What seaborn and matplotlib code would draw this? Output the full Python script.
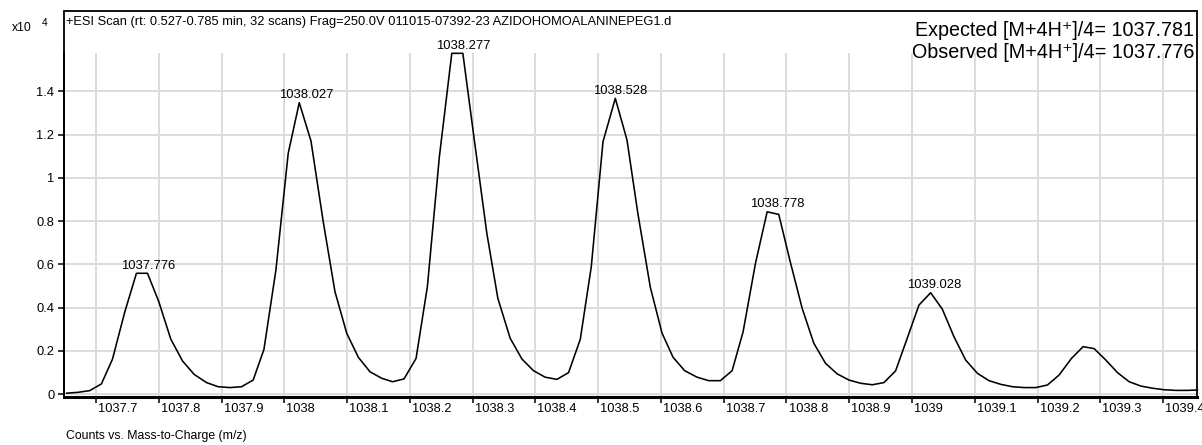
import numpy as np
import pandas as pd
import matplotlib
matplotlib.use("Agg")
import matplotlib.pyplot as plt
import matplotlib.transforms as mtrans
from matplotlib.patches import Rectangle
import seaborn as sns

# ---------------- data (counts in units of 10^4) ----------------
mz = [
    1037.6528, 1037.6713, 1037.6900, 1037.7086, 1037.7262, 1037.7458, 1037.7644, 1037.7820,
    1037.8000, 1037.8191, 1037.8378, 1037.8563, 1037.8761, 1037.8946, 1037.9132, 1037.9319,
    1037.9504, 1037.9675, 1037.9866, 1038.0062, 1038.0238, 1038.0424, 1038.0620, 1038.0807,
    1038.0994, 1038.1179, 1038.1365, 1038.1552, 1038.1724, 1038.1907, 1038.2099, 1038.2279,
    1038.2470, 1038.2668, 1038.2844, 1038.3013, 1038.3226, 1038.3402, 1038.3598, 1038.3785,
    1038.3970, 1038.4156, 1038.4343, 1038.4528, 1038.4715, 1038.4890, 1038.5077, 1038.5273,
    1038.5459, 1038.5632, 1038.5831, 1038.6018, 1038.6193, 1038.6378, 1038.6576, 1038.6761,
    1038.6947, 1038.7134, 1038.7309, 1038.7506, 1038.7692, 1038.7877, 1038.8053, 1038.8250,
    1038.8435, 1038.8622, 1038.8809, 1038.8994, 1038.9180, 1038.9367, 1038.9552, 1038.9738,
    1038.9925, 1039.0110, 1039.0297, 1039.0483, 1039.0668, 1039.0855, 1039.1041, 1039.1226,
    1039.1413, 1039.1600, 1039.1785, 1039.1971, 1039.2158, 1039.2343, 1039.2541, 1039.2726,
    1039.2901, 1039.3088, 1039.3274, 1039.3459, 1039.3646, 1039.3833, 1039.4018, 1039.4204,
    1039.4391, 1039.4550,
]
counts = [
    0.005, 0.009, 0.017, 0.048, 0.162, 0.380, 0.559, 0.559,
    0.428, 0.255, 0.154, 0.092, 0.054, 0.035, 0.031, 0.035,
    0.066, 0.207, 0.574, 1.113, 1.347, 1.171, 0.797, 0.474,
    0.282, 0.171, 0.104, 0.074, 0.058, 0.071, 0.166, 0.497,
    1.097, 1.575, 1.575, 1.205, 0.744, 0.443, 0.259, 0.163,
    0.109, 0.079, 0.069, 0.100, 0.254, 0.589, 1.167, 1.367,
    1.175, 0.836, 0.494, 0.282, 0.171, 0.109, 0.079, 0.063,
    0.063, 0.109, 0.289, 0.605, 0.843, 0.831, 0.620, 0.397,
    0.236, 0.143, 0.094, 0.066, 0.051, 0.044, 0.054, 0.108,
    0.260, 0.412, 0.469, 0.393, 0.266, 0.158, 0.097, 0.063,
    0.046, 0.035, 0.031, 0.031, 0.043, 0.089, 0.166, 0.220,
    0.211, 0.158, 0.100, 0.058, 0.038, 0.028, 0.021, 0.018,
    0.018, 0.020,
]
peak_labels = [1037.776, 1038.027, 1038.277, 1038.528, 1038.778, 1039.028]

x_ticks = [1037.7, 1037.8, 1037.9, 1038.0, 1038.1, 1038.2, 1038.3, 1038.4, 1038.5,
           1038.6, 1038.7, 1038.8, 1038.9, 1039.0, 1039.1, 1039.2, 1039.3, 1039.4]
x_tick_labels = ["1037.7", "1037.8", "1037.9", "1038", "1038.1", "1038.2", "1038.3",
                 "1038.4", "1038.5", "1038.6", "1038.7", "1038.8", "1038.9", "1039",
                 "1039.1", "1039.2", "1039.3", "1039.4"]
y_ticks = [0, 0.2, 0.4, 0.6, 0.8, 1.0, 1.2, 1.4]
y_tick_labels = ["0", "0.2", "0.4", "0.6", "0.8", "1", "1.2", "1.4"]

header_text = ("+ESI Scan (rt: 0.527-0.785 min, 32 scans) Frag=250.0V "
               "011015-07392-23 AZIDOHOMOALANINEPEG1.d")
expected_text = "Expected [M+4H\u207a]/4= 1037.781"
observed_text = "Observed [M+4H\u207a]/4= 1037.776"
xlabel_text = "Counts vs. Mass-to-Charge (m/z)"

# ---------------- style ----------------
sns.set_theme(style="white")
plt.rcParams["font.family"] = ["Liberation Sans", "DejaVu Sans"]

W, H = 1202, 445
fig = plt.figure(figsize=(W / 100, H / 100), dpi=100)
fig.patch.set_facecolor("white")

def fx(px):
    return px / W

def fy(py):
    return 1 - py / H

ax_left, ax_right, ax_top, ax_bottom = 64, 1197, 53, 396.5
ax = fig.add_axes([fx(ax_left), fy(ax_bottom), fx(ax_right - ax_left),
                   (ax_bottom - ax_top) / H])
ax.set_facecolor("white")

df = pd.DataFrame({"mz": mz, "counts": counts})
sns.lineplot(data=df, x="mz", y="counts", ax=ax, color="black", linewidth=1.15,
             estimator=None, sort=False)
for ln in ax.lines:
    ln.set_clip_on(False)
    ln.set_zorder(3)

ax.set_xlim(1037.649, 1039.454)
ax.set_ylim(-0.0102, 1.5765)
ax.set_xticks(x_ticks)
ax.set_xticklabels(x_tick_labels)
ax.set_yticks(y_ticks)
ax.set_yticklabels(y_tick_labels)
ax.set_xlabel("")
ax.set_ylabel("")

ax.grid(True, color="#dcdcdc", linewidth=1.4)
ax.set_axisbelow(True)

for s in ["top", "right"]:
    ax.spines[s].set_visible(False)
ax.spines["left"].set_color("black")
ax.spines["left"].set_linewidth(1.3)
ax.spines["bottom"].set_color("black")
ax.spines["bottom"].set_linewidth(2.2)

ax.tick_params(axis="both", direction="out", length=4.5, width=1.1, color="black",
               labelsize=9.3, labelcolor="black")
ax.tick_params(axis="x", pad=0.5)
ax.tick_params(axis="y", pad=2.5)
ax.tick_params(bottom=True, left=True)

offset = mtrans.ScaledTranslation(1.5 / 72, 0, fig.dpi_scale_trans)
for lbl in ax.get_xticklabels():
    lbl.set_ha("left")
    lbl.set_transform(lbl.get_transform() + offset)

# peak labels
mz_arr = np.array(mz)
cnt_arr = np.array(counts)
for lab in peak_labels:
    h = cnt_arr[np.abs(mz_arr - lab) < 0.02].max()
    ax.annotate(f"{lab:.3f}", (lab, h), xytext=(3.5, 3.3), textcoords="offset points",
                ha="center", va="baseline", fontsize=9.4, color="black",
                annotation_clip=False, zorder=4)

# outer frame
fig.add_artist(Rectangle((fx(64), fy(396.5)), fx(1197 - 64), (396.5 - 11) / H,
                         transform=fig.transFigure, fill=False, edgecolor="black",
                         linewidth=1.3, zorder=5))

# texts
fig.text(fx(66), fy(22.5), header_text, ha="left", va="center", fontsize=9.3, color="black")
fig.text(fx(1194), fy(36.5), expected_text, ha="right", va="baseline", fontsize=14.2,
         color="black", zorder=6)
fig.text(fx(1194), fy(58.5), observed_text, ha="right", va="baseline", fontsize=14.2,
         color="black", zorder=6)
fig.text(fx(11.5), fy(28), "x10", ha="left", va="center", fontsize=8.8, color="black")
fig.text(fx(45), fy(23.5), "4", ha="center", va="center", fontsize=7.2, color="black")
fig.text(fx(66), fy(436), xlabel_text, ha="left", va="center", fontsize=8.8, color="black")

fig.savefig("out.png", dpi=100, facecolor="white")
